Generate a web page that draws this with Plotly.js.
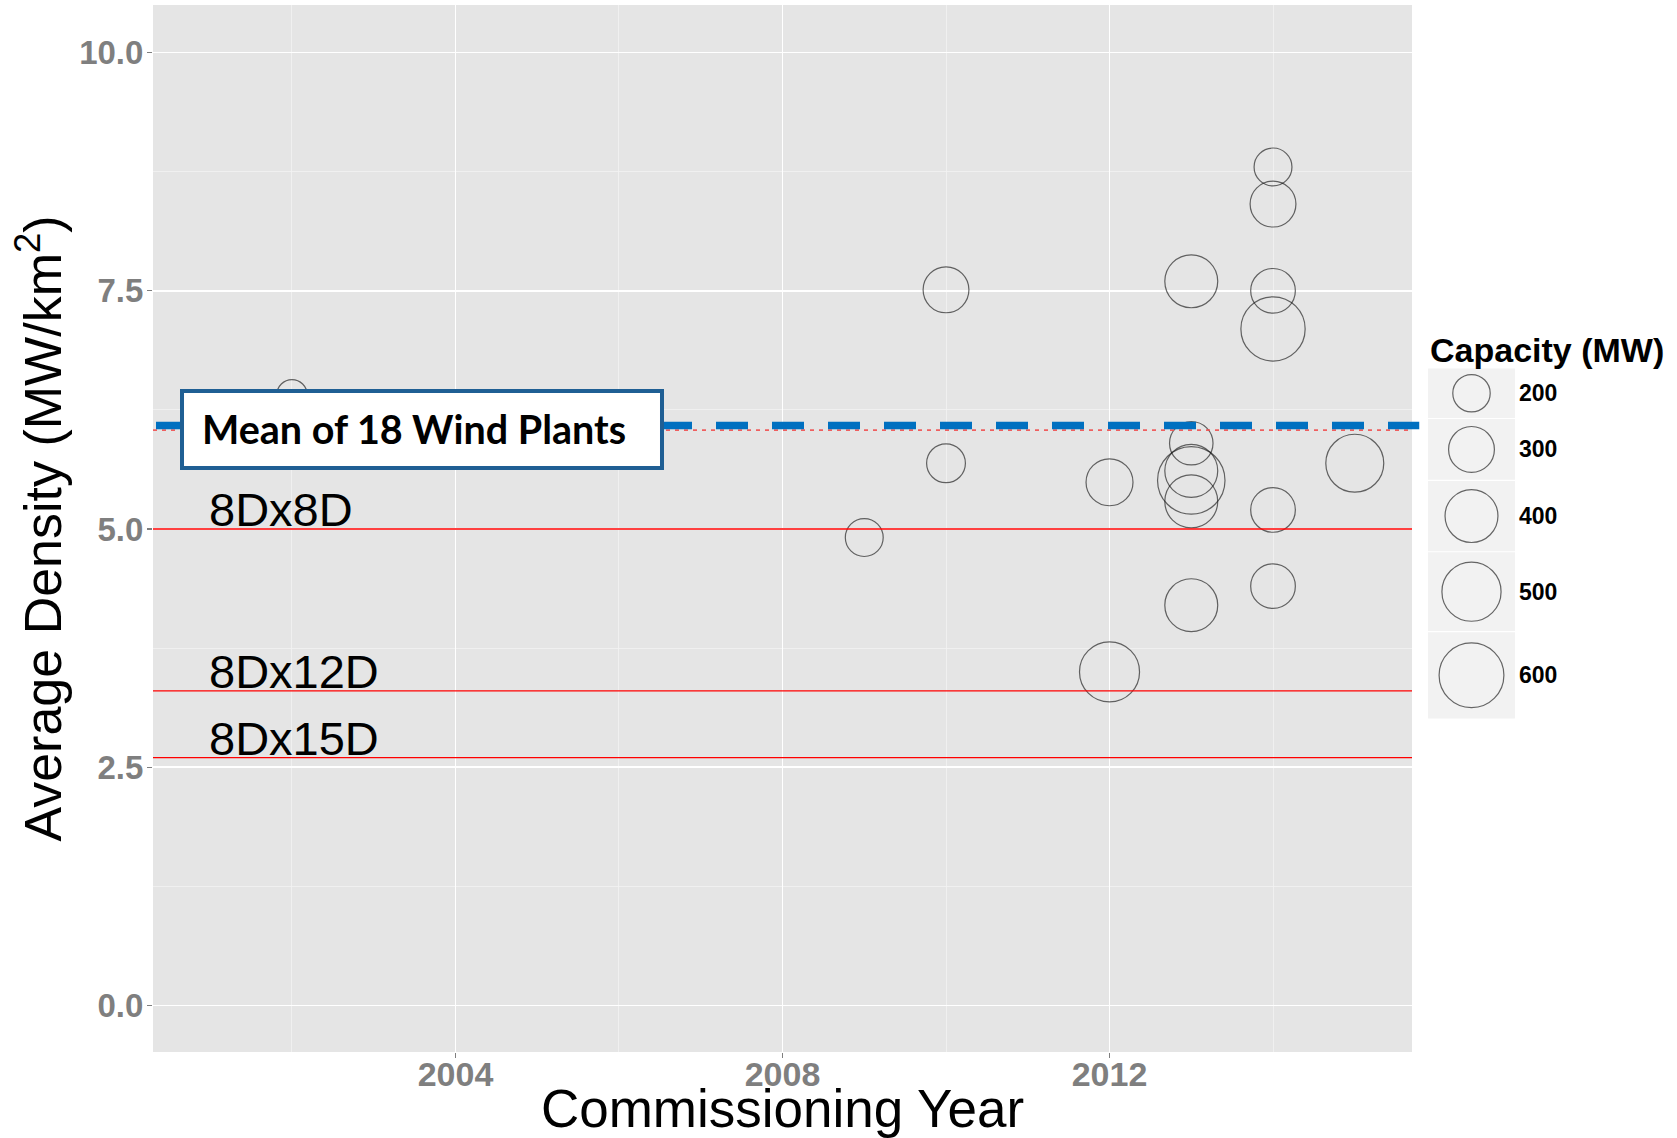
<!DOCTYPE html>
<html><head><meta charset="utf-8">
<script src="https://cdn.plot.ly/plotly-3.0.1.min.js"></script>
<style>html,body{margin:0;padding:0;background:#fff;} #chart{width:1677px;height:1138px;}</style>
</head><body><div id="chart"></div>
<script>
// ---- data ----
const years    = [2002, 2009, 2010, 2010, 2012, 2012, 2013, 2013, 2013, 2013, 2013, 2013, 2014, 2014, 2014, 2014, 2014, 2014, 2015];
const density  = [6.41, 4.91, 7.51, 5.69, 5.49, 3.50, 7.60, 5.90, 5.61, 5.51, 5.29, 4.20, 8.80, 8.41, 7.50, 7.10, 5.20, 4.40, 5.69];
const capacity = [130,  205,  300,  215,  315,  515,  400,  270,  400,  650,  400,  400,  205,  300,  285,  590,  285,  285,  480];

const refLabels  = ['8Dx8D', '8Dx12D', '8Dx15D'];
const refDensity = [5.0, 3.3, 2.6];
const refLabelYear = 2001;

const meanLabel = 'Mean of 18 Wind Plants';
const legendTitle = 'Capacity (MW)';
const legendCaps = [200, 300, 400, 500, 600];

const xTitle = 'Commissioning Year';
const yTitle = 'Average Density (MW/km<sup>2</sup>)';

// ---- derived ----
const meanDensity = density.reduce((a, b) => a + b, 0) / density.length;
const SIZEREF = 2 / 7;   // area-mode bubble scale
const diam = c => Math.sqrt(2 * c / SIZEREF);

// legend key layout (pixel units on the legend's own axis)
const keyH = legendCaps.map(c => diam(c) * 1.35);
const keyTop = [];
let acc = 0;
keyH.forEach(h => { keyTop.push(acc); acc += h; });
const keyCenter = keyTop.map((t, i) => t + keyH[i] / 2);
const legendTotal = acc;

const AX_FONT = 'Liberation Sans, Arial, sans-serif';

const bubbleMarker = {
  sizemode: 'area', sizeref: SIZEREF,
  color: 'rgba(0,0,0,0)',
  line: {color: 'rgba(20,20,20,0.9)', width: 1.2}
};

const traces = [
  {
    type: 'scatter', mode: 'markers', x: years, y: density,
    marker: Object.assign({size: capacity}, bubbleMarker),
    xaxis: 'x', yaxis: 'y', hoverinfo: 'x+y+text', text: capacity.map(c => c + ' MW'),
    showlegend: false, cliponaxis: false
  },
  {
    type: 'scatter', mode: 'markers', x: legendCaps.map(() => 0.5), y: keyCenter,
    marker: Object.assign({size: legendCaps}, bubbleMarker),
    xaxis: 'x2', yaxis: 'y2', hoverinfo: 'skip', showlegend: false, cliponaxis: false
  }
];

const shapes = [];
// panel background
shapes.push({type: 'rect', xref: 'x domain', yref: 'y domain', x0: 0, x1: 1, y0: 0, y1: 1,
  fillcolor: '#E5E5E5', line: {width: 0}, layer: 'below'});
// legend key backgrounds
keyTop.forEach((t, i) => {
  shapes.push({type: 'rect', xref: 'x2 domain', yref: 'y2', x0: 0, x1: 1, y0: t + 0.6, y1: t + keyH[i] - 0.6,
    fillcolor: '#F2F2F2', line: {width: 0}, layer: 'below'});
});
// reference lines
refDensity.forEach(v => {
  shapes.push({type: 'line', xref: 'x domain', yref: 'y', x0: 0, x1: 1, y0: v, y1: v,
    line: {color: '#FF0000', width: 1.3}, layer: 'above'});
});
// mean line (red dotted)
shapes.push({type: 'line', xref: 'x domain', yref: 'y', x0: 0, x1: 1, y0: meanDensity, y1: meanDensity,
  line: {color: 'rgba(240,80,80,0.9)', width: 1.6, dash: '4px,5px'}, layer: 'above'});
// blue highlighted mean line
shapes.push({type: 'line', xref: 'paper', yref: 'y', ysizemode: 'pixel', yanchor: meanDensity,
  x0: 0.00198, x1: 0.8347, y0: 4.5, y1: 4.5,
  line: {color: '#0070C0', width: 7.5, dash: '32px,24px'}, layer: 'above'});
// callout box
shapes.push({type: 'rect', xref: 'paper', yref: 'paper', x0: 0.01912, x1: 0.33553, y0: 0.5578, y1: 0.6313,
  fillcolor: '#FFFFFF', line: {color: '#1F5F94', width: 4}, layer: 'above'});

const annotations = [];
refLabels.forEach((t, i) => {
  annotations.push({text: t, x: refLabelYear, y: refDensity[i], xref: 'x', yref: 'y',
    xanchor: 'left', yanchor: 'bottom', showarrow: false, yshift: -9, xshift: -3,
    font: {family: AX_FONT, size: 47, color: '#000'}});
});
annotations.push({text: meanLabel, xref: 'paper', yref: 'paper', x: 0.0310, y: 0.5955,
  xanchor: 'left', yanchor: 'middle', showarrow: false,
  font: {family: 'Lato, Calibri, sans-serif', size: 39.5, color: '#000', weight: 'bold'}});
// legend title
annotations.push({text: legendTitle, xref: 'x2 domain', yref: 'paper', x: 0, y: 0.6504,
  xanchor: 'left', yanchor: 'bottom', showarrow: false,
  font: {family: AX_FONT, size: 34, color: '#000', weight: 'bold'}});
legendCaps.forEach((c, i) => {
  annotations.push({text: String(c), xref: 'x2 domain', yref: 'y2', x: 1.02, y: keyCenter[i],
    xanchor: 'left', yanchor: 'middle', showarrow: false,
    font: {family: AX_FONT, size: 23, color: '#000', weight: 'bold'}});
});

const layout = {
  width: 1677, height: 1138,
  margin: {l: 153, r: 7, t: 5, b: 86},
  paper_bgcolor: '#FFFFFF', plot_bgcolor: 'rgba(0,0,0,0)',
  showlegend: false,
  xaxis: {
    domain: [0, 0.82993], range: [2000.3, 2015.7],
    tick0: 2004, dtick: 4, ticks: 'outside', ticklen: 5, tickwidth: 1.2, tickcolor: '#7F7F7F',
    ticklabelstandoff: -13,
    showgrid: true, gridcolor: '#FFFFFF', gridwidth: 1.6, zeroline: false, showline: false,
    minor: {tick0: 2002, dtick: 4, showgrid: true, gridcolor: '#F2F2F2', gridwidth: 0.8, ticks: ''},
    tickfont: {family: AX_FONT, size: 34, color: '#7F7F7F', weight: 'bold'},
    title: {text: xTitle, standoff: 22, font: {family: AX_FONT, size: 53, color: '#000'}},
    fixedrange: true
  },
  yaxis: {
    range: [-0.49, 10.5],
    tick0: 0, dtick: 2.5, tickformat: '.1f', ticks: 'outside', ticklen: 5, tickwidth: 1.2, tickcolor: '#7F7F7F',
    ticklabelstandoff: -3,
    showgrid: true, gridcolor: '#FFFFFF', gridwidth: 1.6, zeroline: false, showline: false,
    minor: {tick0: 1.25, dtick: 2.5, showgrid: true, gridcolor: '#F2F2F2', gridwidth: 0.8, ticks: ''},
    tickfont: {family: AX_FONT, size: 33, color: '#7F7F7F', weight: 'bold'},
    title: {text: yTitle, standoff: 0, font: {family: AX_FONT, size: 52, color: '#000'}},
    fixedrange: true
  },
  xaxis2: {domain: [0.84048, 0.89782], range: [0, 1], anchor: 'y2', visible: false, fixedrange: true},
  yaxis2: {domain: [0.31805, 0.65329], range: [legendTotal, 0], anchor: 'x2', visible: false, fixedrange: true},
  shapes: shapes,
  annotations: annotations
};

Plotly.newPlot('chart', traces, layout, {displayModeBar: false, staticPlot: true});
</script>
</body></html>
